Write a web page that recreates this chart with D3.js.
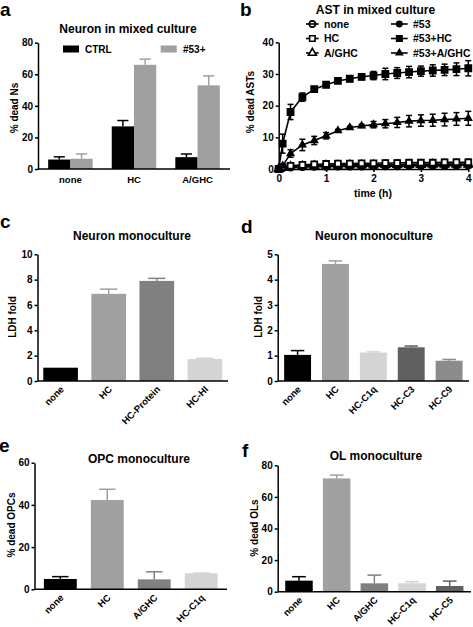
<!DOCTYPE html>
<html><head><meta charset="utf-8">
<script src="https://cdn.jsdelivr.net/npm/d3@7"></script>
<style>
body{margin:0;background:#fff}
svg{display:block;font-family:"Liberation Sans",Arial,Helvetica,sans-serif;font-weight:bold}
</style></head><body>
<svg id="chart" width="473" height="627"></svg>
<script>
// ---------------- DATA ----------------
// Panel a
const aCategories = ["none", "HC", "A/GHC"];
const aSeries = ["CTRL", "#53+"];
const aCtrl = [6, 27, 7.5];
const aCtrlErr = [1.7, 3.7, 2];
const a53 = [6.5, 66, 53];
const a53Err = [3, 3.6, 6];
const aTicks = [0, 20, 40, 60, 80];

// Panel b
const bTime = [0, 0.083, 0.25, 0.5, 0.75, 1, 1.25, 1.5, 1.75, 2, 2.25, 2.5, 2.75, 3, 3.25, 3.5, 3.75, 4];
const bNone = [0, 0.3, 0.5, 0.6, 0.7, 0.7, 0.8, 0.8, 0.8, 0.9, 0.9, 0.9, 1.0, 1.0, 1.0, 1.0, 1.1, 1.1];
const bNoneErr = [0, 0.3, 0.4, 0.5, 0.5, 0.5, 0.6, 0.6, 0.6, 0.6, 0.6, 0.7, 0.7, 0.7, 0.7, 0.7, 0.7, 0.7];
const b53 = [0, 0.5, 0.8, 1.0, 1.1, 1.2, 1.2, 1.3, 1.3, 1.4, 1.4, 1.4, 1.5, 1.5, 1.5, 1.6, 1.6, 1.6];
const b53Err = [0, 0.3, 0.4, 0.5, 0.5, 0.6, 0.6, 0.6, 0.7, 0.7, 0.7, 0.7, 0.8, 0.8, 0.8, 0.8, 0.8, 0.8];
const bHC = [0, 0.6, 1.0, 1.3, 1.5, 1.6, 1.7, 1.7, 1.8, 1.8, 1.9, 1.9, 2.0, 2.0, 2.0, 2.1, 2.1, 2.1];
const bHCErr = [0, 0.4, 0.5, 0.6, 0.6, 0.7, 0.7, 0.7, 0.8, 0.8, 0.8, 0.9, 0.9, 0.9, 0.9, 0.9, 1.0, 1.0];
const bAGHC = [0, 0.4, 0.7, 0.9, 1.0, 1.1, 1.1, 1.2, 1.2, 1.2, 1.3, 1.3, 1.3, 1.3, 1.4, 1.4, 1.4, 1.4];
const bAGHCErr = [0, 0.3, 0.4, 0.4, 0.5, 0.5, 0.5, 0.6, 0.6, 0.6, 0.6, 0.6, 0.7, 0.7, 0.7, 0.7, 0.7, 0.7];
const b53HC = [0, 8, 18, 22.7, 25.2, 26.6, 27.8, 28.5, 29.1, 29.5, 30.0, 30.3, 30.6, 30.9, 31.1, 31.3, 31.5, 31.8];
const b53HCErr = [0, 3, 2.4, 1.3, 0.8, 0.7, 0.4, 0.9, 0.9, 1.3, 1.8, 1.7, 1.8, 1.6, 1.8, 1.8, 2.0, 2.4];
const b53AGHC = [0, 1.0, 4.9, 7.6, 9.0, 10.5, 12.1, 13.1, 13.6, 14.0, 14.3, 14.7, 15.1, 15.3, 15.4, 15.6, 15.8, 16.0];
const b53AGHCErr = [0, 0.5, 1.2, 1.8, 1.3, 1.0, 0.4, 0.4, 0.5, 1.0, 1.3, 1.6, 1.8, 1.8, 1.9, 2.0, 2.0, 2.2];
const bLegend = ["none", "HC", "A/GHC", "#53", "#53+HC", "#53+A/GHC"];
const bXTicks = [0, 1, 2, 3, 4];
const bYTicks = [0, 10, 20, 30, 40];

// Panel c
const cCategories = ["none", "HC", "HC-Protein", "HC-HI"];
const cValues = [1.05, 6.88, 7.9, 1.74];
const cErr = [0, 0.37, 0.2, 0.06];
const cColors = ["#000000", "#a0a0a0", "#808080", "#d4d4d4"];
const cTicks = [0, 2, 4, 6, 8, 10];

// Panel d
const dCategories = ["none", "HC", "HC-C1q", "HC-C3", "HC-C9"];
const dValues = [1.03, 4.62, 1.12, 1.33, 0.8];
const dErr = [0.17, 0.12, 0.03, 0.05, 0.05];
const dColors = ["#000000", "#a0a0a0", "#d4d4d4", "#606060", "#8c8c8c"];
const dTicks = [0, 1, 2, 3, 4, 5];

// Panel e
const eCategories = ["none", "HC", "A/GHC", "HC-C1q"];
const eValues = [4.9, 42.3, 4.7, 7.6];
const eErr = [1.1, 5.1, 3.6, 0.1];
const eColors = ["#000000", "#a0a0a0", "#808080", "#d4d4d4"];
const eTicks = [0, 20, 40, 60];

// Panel f
const fCategories = ["none", "HC", "A/GHC", "HC-C1q", "HC-C5"];
const fValues = [7.0, 71.7, 5.3, 5.3, 3.6];
const fErr = [2.5, 2.1, 5.2, 1.0, 3.1];
const fColors = ["#000000", "#a0a0a0", "#808080", "#d4d4d4", "#606060"];
const fTicks = [0, 20, 40, 60, 80];

// ---------------- DRAWING ----------------
const svg = d3.select("#chart");
const FONT = '"Liberation Sans", Arial, Helvetica, sans-serif';

function styleAxis(ax) {
  ax.attr("font-family", FONT).attr("font-size", 10).attr("font-weight", "bold");
  ax.select(".domain").attr("stroke-width", 1.5).attr("stroke", "#000");
  ax.selectAll(".tick line").attr("stroke-width", 1.5);
  ax.selectAll(".tick text").attr("fill", "#000");
}

function yAxis(x, y, ticks) {
  const ax = svg.append("g").attr("transform", `translate(${x},0)`)
    .call(d3.axisLeft(y).tickValues(ticks).tickSize(3).tickSizeOuter(0).tickPadding(2).tickFormat(d3.format("d")));
  styleAxis(ax);
}

function text(x, y, s, size, anchor, rot) {
  const t = svg.append("text").attr("font-family", FONT).attr("font-weight", "bold")
    .attr("font-size", size).attr("text-anchor", anchor || "middle").text(s);
  if (rot) t.attr("transform", `translate(${x},${y}) rotate(${rot})`);
  else t.attr("x", x).attr("y", y);
  return t;
}

function errBar(g, cx, yv, ye, w, color) {
  g.append("line").attr("x1", cx).attr("x2", cx).attr("y1", yv).attr("y2", ye)
    .attr("stroke", color).attr("stroke-width", 1.5);
  g.append("line").attr("x1", cx - w / 2).attr("x2", cx + w / 2).attr("y1", ye).attr("y2", ye)
    .attr("stroke", color).attr("stroke-width", 1.5);
}

function barPanel(L, cats, vals, errs, colors, ticks) {
  const g = svg.append("g");
  const x = d3.scaleBand().domain(cats).range([L.x0, L.x1]).paddingInner(L.pi).paddingOuter(L.po);
  const y = d3.scaleLinear().domain([0, ticks[ticks.length - 1]]).range([L.yb, L.yt]);
  g.selectAll("rect").data(cats).join("rect")
    .attr("x", d => x(d)).attr("width", x.bandwidth())
    .attr("y", (d, i) => y(vals[i])).attr("height", (d, i) => y(0) - y(vals[i]))
    .attr("fill", (d, i) => colors[i]);
  cats.forEach((c, i) => {
    if (errs[i] > 0) errBar(g, x(c) + x.bandwidth() / 2, y(vals[i]), y(vals[i] + errs[i]), x.bandwidth() * 0.5, colors[i]);
  });
  svg.append("line").attr("x1", L.x0).attr("x2", L.x1).attr("y1", L.yb).attr("y2", L.yb)
    .attr("stroke", "#000").attr("stroke-width", 1.5);
  yAxis(L.x0, y, ticks);
  cats.forEach(c => {
    text(x(c) + x.bandwidth() / 2 + 4, L.yb + 9, c, 9.5, "end", -45);
  });
  text(L.tx, L.ty, L.title, 12);
  text(L.lx, L.ly, L.ylabel, 10, "middle", -90);
  text(L.px, L.py, L.letter, 19, "start");
}

// ---- Panel a ----
(function () {
  const L = { x0: 38, x1: 230, yb: 169, yt: 42.7 };
  const x = d3.scaleBand().domain(aCategories).range([L.x0, L.x1]).paddingInner(0.3).paddingOuter(0.16);
  const xs = d3.scaleBand().domain(aSeries).range([0, x.bandwidth()]);
  const y = d3.scaleLinear().domain([0, 80]).range([L.yb, L.yt]);
  const colors = ["#000000", "#a0a0a0"];
  const vals = [aCtrl, a53], errs = [aCtrlErr, a53Err];
  const g = svg.append("g");
  aSeries.forEach((s, si) => {
    aCategories.forEach((c, i) => {
      const bx = x(c) + xs(s);
      g.append("rect").attr("x", bx).attr("width", xs.bandwidth())
        .attr("y", y(vals[si][i])).attr("height", y(0) - y(vals[si][i])).attr("fill", colors[si]);
      errBar(g, bx + xs.bandwidth() / 2, y(vals[si][i]), y(vals[si][i] + errs[si][i]), xs.bandwidth() * 0.5, colors[si]);
    });
  });
  svg.append("line").attr("x1", L.x0).attr("x2", L.x1).attr("y1", L.yb).attr("y2", L.yb)
    .attr("stroke", "#000").attr("stroke-width", 1.5);
  yAxis(L.x0, y, aTicks);
  aCategories.forEach(c => text(x(c) + x.bandwidth() / 2, 183, c, 9.5));
  const lg = [[63, 85], [160.7, 183]];
  aSeries.forEach((s, i) => {
    svg.append("rect").attr("x", lg[i][0]).attr("y", 45.5).attr("width", 16).attr("height", 7).attr("fill", colors[i]);
    text(lg[i][1], 52.5, s, 10, "start");
  });
  text(128, 33, "Neuron in mixed culture", 12);
  text(18, 108, "% dead Ns", 10, "middle", -90);
  text(0, 16, "a", 19, "start");
})();

// ---- Panel b ----
(function () {
  const x = d3.scaleLinear().domain([0, 4]).range([278.7, 468.3]);
  const y = d3.scaleLinear().domain([0, 40]).range([169, 42.3]);
  const g = svg.append("g");
  const series = [
    { v: bNone, e: bNoneErr, sym: d3.symbolCircle, fill: "none", size: 30 },
    { v: bAGHC, e: bAGHCErr, sym: d3.symbolTriangle, fill: "#fff", size: 28 },
    { v: b53, e: b53Err, sym: d3.symbolCircle, fill: "#000", size: 28 },
    { v: bHC, e: bHCErr, sym: d3.symbolSquare, fill: "#fff", size: 34 },
    { v: b53AGHC, e: b53AGHCErr, sym: d3.symbolTriangle, fill: "#000", size: 16 },
    { v: b53HC, e: b53HCErr, sym: d3.symbolSquare, fill: "#000", size: 36 }
  ];
  const line = d3.line().x((d, i) => x(bTime[i])).y(d => y(d));
  series.forEach(s => {
    g.append("path").attr("d", line(s.v)).attr("fill", "none").attr("stroke", "#000").attr("stroke-width", 1.6);
    s.v.forEach((v, i) => {
      if (s.e[i] > 0) {
        const cx = x(bTime[i]);
        g.append("line").attr("x1", cx).attr("x2", cx).attr("y1", y(v - s.e[i])).attr("y2", y(v + s.e[i]))
          .attr("stroke", "#000").attr("stroke-width", 1.5);
        [v - s.e[i], v + s.e[i]].forEach(w => g.append("line").attr("x1", cx - 3).attr("x2", cx + 3)
          .attr("y1", y(w)).attr("y2", y(w)).attr("stroke", "#000").attr("stroke-width", 1.5));
      }
      g.append("path").attr("d", d3.symbol(s.sym, s.size)())
        .attr("transform", `translate(${x(bTime[i])},${y(v)})`)
        .attr("fill", s.fill).attr("stroke", "#000").attr("stroke-width", 1.8);
    });
  });
  const xa = svg.append("g").attr("transform", "translate(0,169)")
    .call(d3.axisBottom(x).tickValues(bXTicks).tickSize(3).tickSizeOuter(0).tickPadding(3).tickFormat(d3.format("d")));
  styleAxis(xa);
  yAxis(278.7, y, bYTicks);
  text(373, 197, "time (h)", 10.5);
  text(375.5, 14, "AST in mixed culture", 12);
  text(254, 102, "% dead ASTs", 10, "middle", -90);
  text(240, 16, "b", 19, "start");
  const legSyms = [
    [d3.symbolCircle, "none", 30], [d3.symbolSquare, "#fff", 30], [d3.symbolTriangle, "#fff", 28],
    [d3.symbolCircle, "#000", 22], [d3.symbolSquare, "#000", 30], [d3.symbolTriangle, "#000", 16]
  ];
  const rowsY = [24, 38.5, 53];
  bLegend.forEach((name, i) => {
    const col = i < 3 ? 0 : 1, row = i % 3;
    const lx0 = col === 0 ? 306 : 391, lx1 = col === 0 ? 318.7 : 407.7;
    const tx = col === 0 ? 324 : 413;
    const yy = rowsY[row];
    svg.append("line").attr("x1", lx0).attr("x2", lx1).attr("y1", yy).attr("y2", yy)
      .attr("stroke", "#000").attr("stroke-width", 1.6);
    svg.append("path").attr("d", d3.symbol(legSyms[i][0], legSyms[i][2])())
      .attr("transform", `translate(${(lx0 + lx1) / 2},${yy})`)
      .attr("fill", legSyms[i][1]).attr("stroke", "#000").attr("stroke-width", 1.6);
    text(tx, yy + 3.7, name, 10.5, "start");
  });
})();

// ---- Panels c-f ----
barPanel({ x0: 37.5, x1: 228, yb: 381, yt: 254.3, pi: 0.28, po: 0.12,
  title: "Neuron monoculture", tx: 132, ty: 240, ylabel: "LDH fold", lx: 16, ly: 317,
  letter: "c", px: 0, py: 228 }, cCategories, cValues, cErr, cColors, cTicks);

barPanel({ x0: 277.7, x1: 469, yb: 381, yt: 254.3, pi: 0.29, po: 0.17,
  title: "Neuron monoculture", tx: 374, ty: 240, ylabel: "LDH fold", lx: 262, ly: 317,
  letter: "d", px: 241, py: 233 }, dCategories, dValues, dErr, dColors, dTicks);

barPanel({ x0: 34.5, x1: 227, yb: 589.3, yt: 462.7, pi: 0.3, po: 0.2,
  title: "OPC monoculture", tx: 139, ty: 463, ylabel: "% dead OPCs", lx: 15, ly: 525,
  letter: "e", px: -1, py: 452 }, eCategories, eValues, eErr, eColors, eTicks);

barPanel({ x0: 277.7, x1: 471, yb: 591.7, yt: 465.3, pi: 0.27, po: 0.2,
  title: "OL monoculture", tx: 376, ty: 460, ylabel: "% dead OLs", lx: 258, ly: 528,
  letter: "f", px: 242, py: 457 }, fCategories, fValues, fErr, fColors, fTicks);
</script>
</body></html>
